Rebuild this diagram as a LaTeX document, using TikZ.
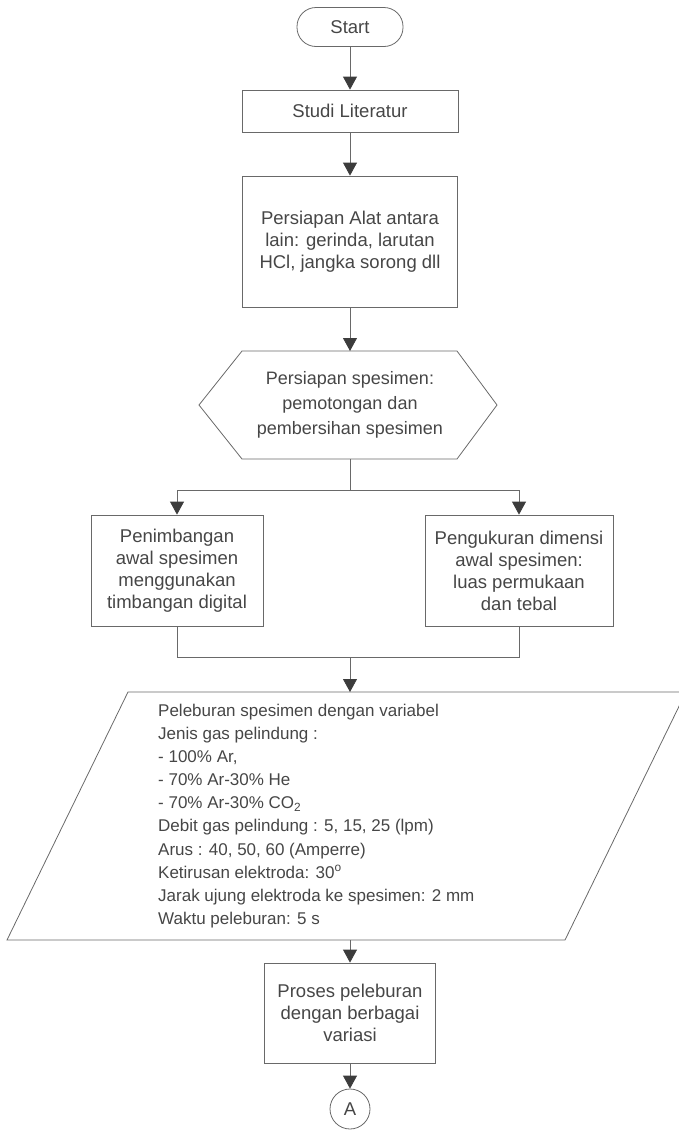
\documentclass[tikz,border=0pt]{standalone}
\usepackage{fontspec}
\setmainfont{Liberation Sans}
\usetikzlibrary{arrows.meta}
\definecolor{txt}{RGB}{70,70,70}
\definecolor{ln}{RGB}{105,105,105}
\definecolor{tip}{RGB}{60,60,60}
\begin{document}
\begin{tikzpicture}[x=1pt,y=-1pt,
  every node/.style={text=txt,font=\fontsize{18.5}{22}\selectfont},
  box/.style={draw=ln,line width=0.8pt,rectangle,align=center,inner sep=2pt},
  conn/.style={draw=ln,line width=0.8pt},
  arr/.style={conn,-{Triangle[width=14pt,length=13pt,fill=tip,color=tip]}}]
\useasboundingbox (0,0) rectangle (679,1130);
% nodes
\node[box,rounded corners=19pt,minimum width=106pt,minimum height=39pt] (start) at (350,27) {Start};
\node[box,minimum width=216pt,minimum height=42pt] (studi) at (350,111) {Studi Literatur};
\node[box,minimum width=215pt,minimum height=131pt] (alat) at (350,241.5) {Persiapan Alat antara\\lain: gerinda, larutan\\HCl, jangka sorong dll};
% hexagon
\coordinate (h1) at (242,351);
\coordinate (h2) at (457,351);
\coordinate (h3) at (497,405);
\coordinate (h4) at (457,459);
\coordinate (h5) at (242,459);
\coordinate (h6) at (199,405);
\coordinate (hextop) at (350,351);
\coordinate (hexbot) at (350,459);
\draw[conn] (h1) -- (h2) -- (h3) -- (h4) -- (h5) -- (h6) -- cycle;
\node[align=center,font=\fontsize{18}{25}\selectfont] (hex) at (350,405) {Persiapan spesimen:\\pemotongan dan\\pembersihan spesimen};
% side boxes
\node[box,minimum width=172pt,minimum height=111pt] (left) at (177,570.5) {Penimbangan\\awal spesimen\\menggunakan\\timbangan digital};
\node[box,minimum width=188pt,minimum height=111pt] (right) at (519,570.5) {Pengukuran dimensi\\awal spesimen:\\luas permukaan\\dan tebal};
\coordinate (split) at (350,490);
\coordinate (splitL) at (177,490);
\coordinate (splitR) at (519,490);
\coordinate (mergeL) at (177,657);
\coordinate (mergeR) at (519,657);
\coordinate (merge) at (350,657);
% parallelogram
\coordinate (p1) at (128,692);
\coordinate (p2) at (686,692);
\coordinate (p3) at (565,940);
\coordinate (p4) at (7,940);
\coordinate (ptop) at (350,692);
\coordinate (pbot) at (350,940);
\draw[conn] (p1) -- (p2) -- (p3) -- (p4) -- cycle;
\node[anchor=west,align=left,inner sep=0pt,font=\fontsize{17}{23.1}\selectfont] (para) at (158,816) {Peleburan spesimen dengan variabel\\
Jenis gas pelindung :\\
- 100\% Ar,\\
- 70\% Ar-30\% He\\
- 70\% Ar-30\% CO\textsubscript{2}\\
Debit gas pelindung : 5, 15, 25 (lpm)\\
Arus : 40, 50, 60 (Amperre)\\
Ketirusan elektroda: 30\textsuperscript{o}\\
Jarak ujung elektroda ke spesimen: 2 mm\\
Waktu peleburan: 5 s};
\node[box,minimum width=171pt,minimum height=100pt] (proses) at (350,1013) {Proses peleburan\\dengan berbagai\\variasi};
\node[box,circle,minimum size=40pt,inner sep=0pt] (A) at (350,1109) {A};
% connectors
\draw[arr] (start) -- (studi);
\draw[arr] (studi) -- (alat);
\draw[arr] (alat) -- (hextop);
\draw[conn] (hexbot) -- (split);
\draw[conn] (splitL) -- (splitR);
\draw[arr] (splitL) -- (left);
\draw[arr] (splitR) -- (right);
\draw[conn] (left) -- (mergeL) -- (mergeR) -- (right);
\draw[arr] (merge) -- (ptop);
\draw[arr] (pbot) -- (proses);
\draw[arr] (proses) -- (A);
\end{tikzpicture}
\end{document}
